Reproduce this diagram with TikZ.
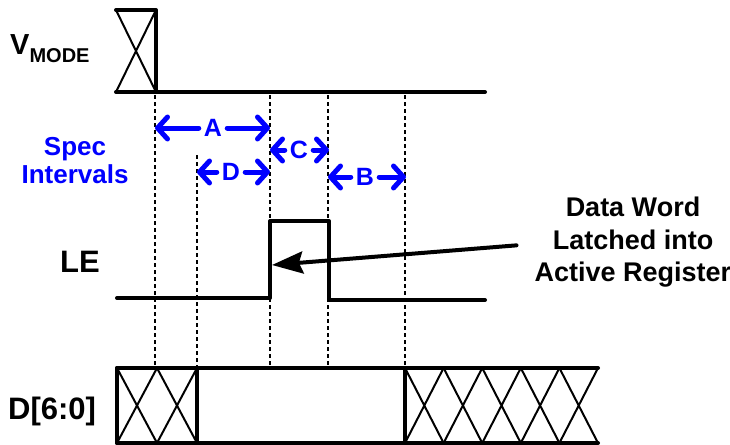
\documentclass[tikz,border=0pt]{standalone}
\usepackage{fontspec}
\setmainfont{Liberation Sans}
\usetikzlibrary{arrows.meta}
\begin{document}
\begin{tikzpicture}[x=1pt,y=-1pt,
  sig/.style={line width=4pt, line cap=round, line join=round},
  hatch/.style={line width=2pt},
  guide/.style={line width=2.5pt, dash pattern=on 4pt off 3pt},
  specarrow/.style={blue, line width=5pt, line cap=round, -{Straight Barb[length=10pt,width=22pt,round]}},
  speclabel/.style={blue, font=\bfseries\fontsize{25}{25}\selectfont, inner xsep=5pt, inner ysep=0pt},
  speclegend/.style={blue, font=\bfseries\fontsize{26}{26}\selectfont, inner sep=0pt, anchor=base},
  siglabel/.style={font=\bfseries\fontsize{31}{31}\selectfont, inner sep=0pt, anchor=base west},
  notelabel/.style={font=\bfseries\fontsize{27}{32.5}\selectfont, inner sep=0pt, align=center},
  latch/.style={line width=4pt, line cap=round, -{Stealth[length=31pt,width=22pt,inset=4pt]}}
]
\useasboundingbox (0,0) rectangle (730,444);

% guide coordinates
\coordinate (g1t) at (155,95);  \coordinate (g1b) at (155,366);
\coordinate (g2t) at (197,155); \coordinate (g2b) at (197,366);
\coordinate (g3t) at (270,95);  \coordinate (g3b) at (270,366);
\coordinate (g4t) at (328,95);  \coordinate (g4b) at (328,366);
\coordinate (g5t) at (405,95);  \coordinate (g5b) at (405,366);
\foreach \i in {1,...,5} {\draw[guide] (g\i t) -- (g\i b);}

% VMODE
\node[siglabel, font=\bfseries] (vmode) at (10,55) {{\fontsize{29}{29}\selectfont V}{\fontsize{20}{20}\selectfont\raisebox{-8pt}{MODE}}};
\draw[hatch] (116,10) -- (156,92) (156,10) -- (116,92);
\draw[sig] (116,10) -- (156,10) -- (156,92);
\draw[sig] (116,92) -- (485,92);

% Spec intervals
\node[speclegend] (spec1) at (75,155) {Spec};
\node[speclegend] (spec2) at (75,183) {Intervals};

\coordinate (a1) at (155,128); \coordinate (a2) at (270,128);
\node[speclabel] (A) at (213,128) {A};
\draw[specarrow] (A.west) -- (a1);
\draw[specarrow] (A.east) -- (a2);

\coordinate (c1) at (270,150); \coordinate (c2) at (329,150);
\node[speclabel] (C) at (299,150) {C};
\draw[specarrow] (C.west) -- (c1);
\draw[specarrow] (C.east) -- (c2);

\coordinate (d1) at (197,172); \coordinate (d2) at (270,172);
\node[speclabel] (D) at (231,172) {D};
\draw[specarrow] (D.west) -- (d1);
\draw[specarrow] (D.east) -- (d2);

\coordinate (b1) at (328,177); \coordinate (b2) at (406,177);
\node[speclabel] (B) at (365,177) {B};
\draw[specarrow] (B.west) -- (b1);
\draw[specarrow] (B.east) -- (b2);

% LE
\node[siglabel] (le) at (60,272) {LE};
\draw[sig] (117,298) -- (270,298) -- (270,221) -- (329,221) -- (329,300) -- (485,300);

% note
\node[notelabel, anchor=north] (note) at (633,197) {Data Word\\Latched into\\Active Register};
\coordinate (latchpt) at (272,265);
\draw[latch] ([xshift=-18pt,yshift=-3pt]note.west) -- (latchpt);

% D bus
\node[siglabel] (dbus) at (8,419) {D[6:0]};
\foreach \a/\b in {117/157,157/197,405/443.6,443.6/482.2,482.2/520.8,520.8/559.4,559.4/598}
  {\draw[hatch] (\a,368) -- (\b,443) (\b,368) -- (\a,443);}
\draw[sig] (117,368) -- (598,368);
\draw[sig] (117,443) -- (598,443);
\draw[sig] (117,368) -- (117,443);
\draw[sig] (197,368) -- (197,443);
\draw[sig] (405,368) -- (405,443);
\end{tikzpicture}
\end{document}
